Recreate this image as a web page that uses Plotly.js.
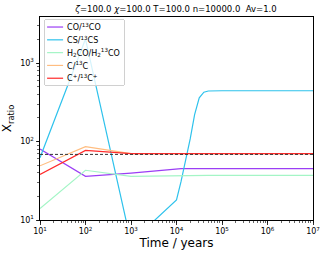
<!DOCTYPE html>
<html><head><meta charset="utf-8">
<script src="https://cdn.plot.ly/plotly-3.0.1.min.js"></script>
<style>body{margin:0;padding:0;background:#fff}#chart{width:326px;height:254px}</style>
</head><body><div id="chart"></div>
<script>
const times = [1e1, 1e2, 1e3, 1e4, 1.26e4, 1.58e4, 2e4, 2.5e4, 3.16e4, 4e4, 5e4, 1e5, 1e6, 1e7];
const coRatio   = [80, 36, 39.5, 45, 45, 45, 45, 45, 45, 45, 45, 45, 45, 45];
const csRatio   = [62, 2020, 5.2, 18, 31, 56, 108, 220, 360, 425, 440, 443, 443, 443];
const h2coRatio = [14, 43, 36, 37, 37, 37, 37, 37, 37, 37, 37, 37, 37, 37];
const cRatio    = [49, 86, 70, 70, 70, 70, 70, 70, 70, 70, 70, 70, 70, 70];
const cpRatio   = [38, 77, 70, 70, 70, 70, 70, 70, 70, 70, 70, 70, 70, 70];
const refTimes = [1e1, 1e7];
const refLevel = [68.5, 68.5];
const seriesNames = ["CO/<sup>13</sup>CO", "CS/<sup>13</sup>CS", "H<sub>2</sub>CO/H<sub>2</sub><sup>13</sup>CO", "C/<sup>13</sup>C", "C<sup>+</sup>/<sup>13</sup>C<sup>+</sup>"];
const seriesColors = ["#9b3ef5", "#2ec2ec", "#a4f5c6", "#ffbd80", "#ff2a2a"];
const xTickVals = [1e1, 1e2, 1e3, 1e4, 1e5, 1e6, 1e7];
const xTickText = ["10<sup>1</sup>", "10<sup>2</sup>", "10<sup>3</sup>", "10<sup>4</sup>", "10<sup>5</sup>", "10<sup>6</sup>", "10<sup>7</sup>"];
const yTickVals = [1e1, 1e2, 1e3];
const yTickText = ["10<sup>1</sup>", "10<sup>2</sup>", "10<sup>3</sup>"];
const titleText = "<i>ζ</i>=100.0 <i>χ</i>=100.0 T=100.0 n=10000.0  Av=1.0";

const allSeries = [coRatio, csRatio, h2coRatio, cRatio, cpRatio];
const traces = allSeries.map((ys, i) => ({
  x: times, y: ys, type: 'scatter', mode: 'lines', name: seriesNames[i],
  line: {color: seriesColors[i], width: 1.2}
}));
traces.push({x: refTimes, y: refLevel, type: 'scatter', mode: 'lines', showlegend: false,
  line: {color: '#333', width: 1, dash: '3px,2px'}});

const font = {family: 'DejaVu Sans', color: '#000', size: 8};
const layout = {
  width: 326, height: 254,
  margin: {l: 40, r: 13, t: 17, b: 34},
  paper_bgcolor: '#fff', plot_bgcolor: '#fff',
  font: font,
  showlegend: true,
  title: {text: titleText, font: {family: 'DejaVu Sans', size: 8.5, color: '#000'}, x: 0.54, xanchor: 'center', y: 0.963, yanchor: 'middle'},
  xaxis: {type: 'log', range: [1, 7], showline: true, mirror: true, linecolor: '#000', linewidth: 1,
    showgrid: false, zeroline: false, ticks: 'outside', ticklen: 3.5, tickwidth: 0.8, tickcolor: '#000',
    tickvals: xTickVals, ticktext: xTickText, tickfont: {family: 'DejaVu Sans', size: 8},
    minor: {ticks: 'outside', ticklen: 2, tickwidth: 0.6, tickcolor: '#000', dtick: 'D1', showgrid: false},
    title: {text: 'Time / years', font: {family: 'DejaVu Sans', size: 12}, standoff: 3}},
  yaxis: {type: 'log', range: [1, 3.586], showline: true, mirror: true, linecolor: '#000', linewidth: 1,
    showgrid: false, zeroline: false, ticks: 'outside', ticklen: 3.5, tickwidth: 0.8, tickcolor: '#000',
    tickvals: yTickVals, ticktext: yTickText, tickfont: {family: 'DejaVu Sans', size: 8},
    minor: {ticks: 'outside', ticklen: 2, tickwidth: 0.6, tickcolor: '#000', dtick: 'D1', showgrid: false},
    title: {text: 'X<sub>ratio</sub>', font: {family: 'DejaVu Sans', size: 12}, standoff: 5}},
  legend: {x: 0.015, y: 0.99, xanchor: 'left', yanchor: 'top', bgcolor: 'rgba(255,255,255,0.8)',
    bordercolor: '#d0d0d0', borderwidth: 1, font: {family: 'DejaVu Sans', size: 8, color: '#000'},
    tracegroupgap: 0, itemwidth: 30}
};
Plotly.newPlot('chart', traces, layout, {staticPlot: true, displayModeBar: false}).then(gd => {
  // matplotlib-like compact legend: short handles, tight rows
  const textX = 23, rowTop = 8, rowGap = 12.8;
  let maxW = 0;
  gd.querySelectorAll('.legend .traces').forEach((t, i) => {
    t.setAttribute('transform', 'translate(0,' + (rowTop + i * rowGap) + ')');
    const p = t.querySelector('.js-line');
    if (p) p.setAttribute('d', 'M3,0h16');
    const tx = t.querySelector('.legendtext');
    if (tx) {
      const old = +tx.getAttribute('x');
      tx.setAttribute('x', textX);
      tx.querySelectorAll('tspan[x]').forEach(s => s.setAttribute('x', +s.getAttribute('x') - old + textX));
      try { maxW = Math.max(maxW, tx.getBBox().width); } catch (e) {}
    }
  });
  const bg = gd.querySelector('.legend .bg');
  if (bg) {
    bg.setAttribute('width', Math.round(textX + maxW + 4));
    bg.setAttribute('height', Math.round(rowTop + 4 * rowGap + 7));
    bg.setAttribute('rx', 2); bg.setAttribute('ry', 2);
  }
});
</script></body></html>
